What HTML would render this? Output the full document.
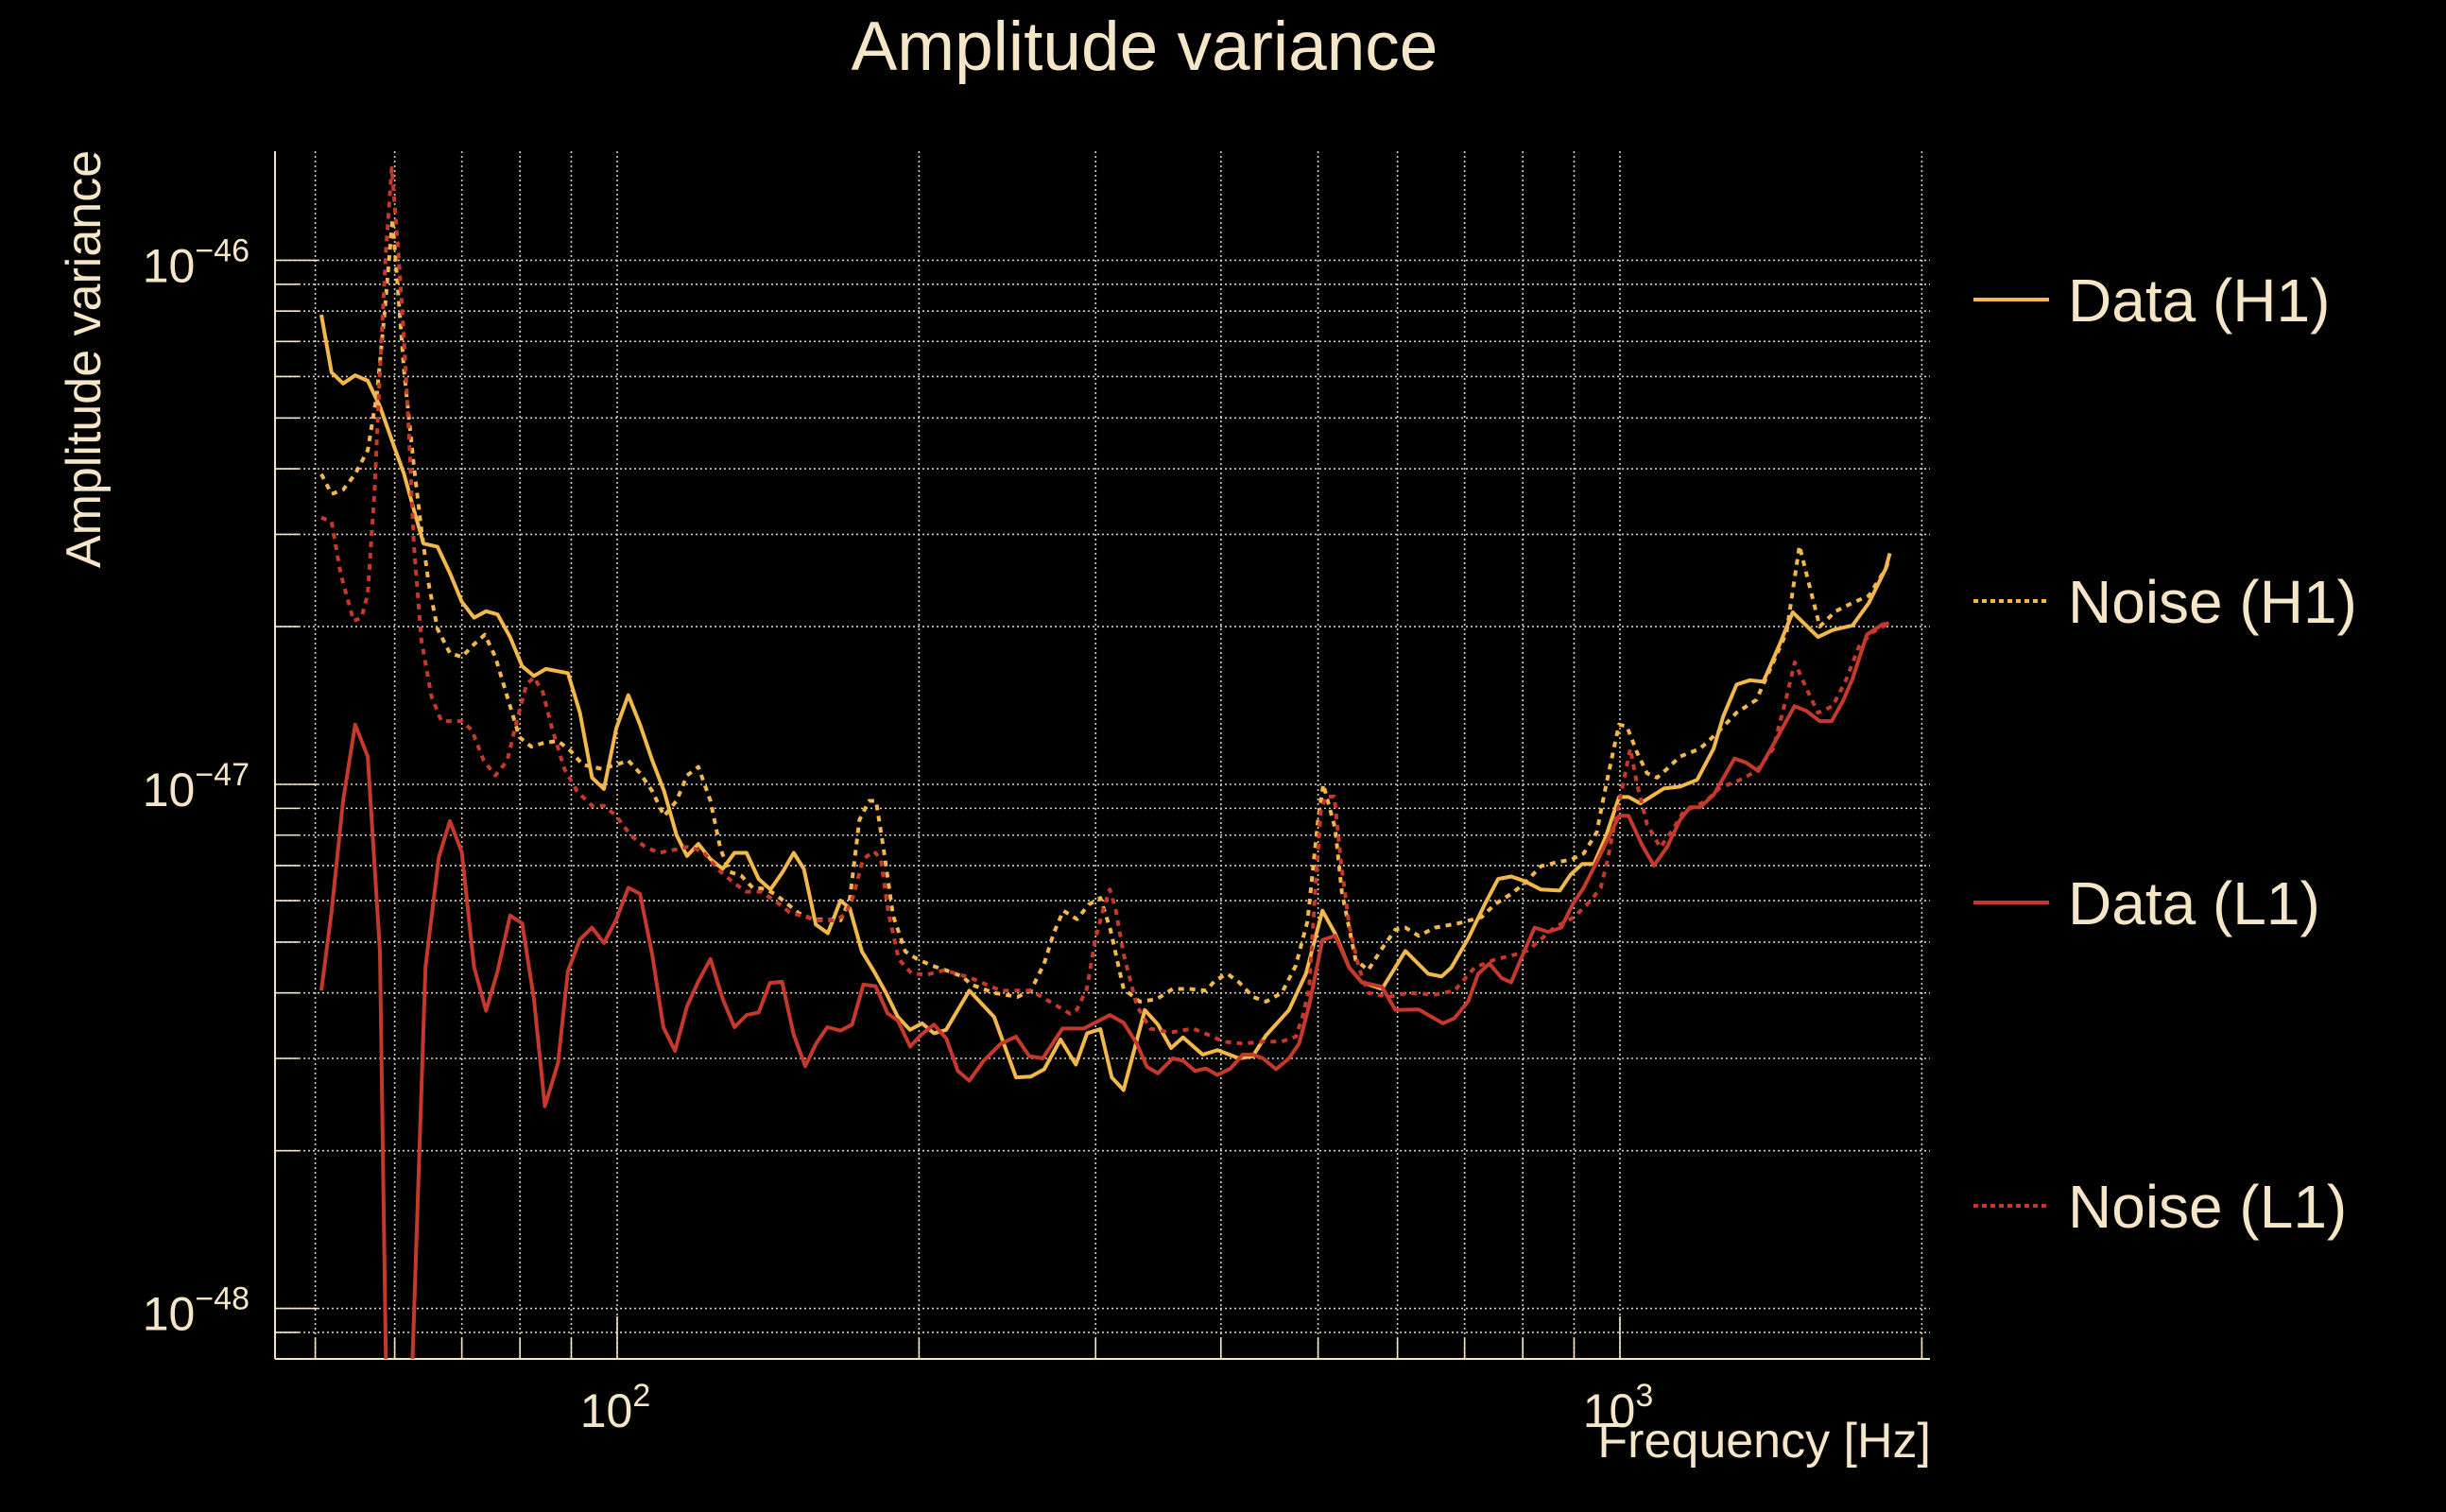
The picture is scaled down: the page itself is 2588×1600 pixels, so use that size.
<!DOCTYPE html>
<html><head><meta charset="utf-8"><style>
html,body{margin:0;padding:0;background:#000;}
svg{display:block;}
text{font-family:"Liberation Sans",sans-serif;fill:#f5e6c8;}
</style></head><body>
<svg id="chart" width="2588" height="1600" viewBox="0 0 2588 1600" xmlns="http://www.w3.org/2000/svg">
<rect width="2588" height="1600" fill="#000"/>
<defs><clipPath id="plotclip"><rect x="291" y="160" width="1751" height="1278"/></clipPath></defs>
<text x="1211" y="74" font-size="73" text-anchor="middle">Amplitude variance</text>
<text transform="translate(106,380) rotate(-90)" font-size="52" text-anchor="middle">Amplitude variance</text>
<text x="2043" y="1542" font-size="52" text-anchor="end">Frequency [Hz]</text>
<g id="grid"></g>
<g id="ticks"></g>
<g id="series" clip-path="url(#plotclip)"></g>
<g id="legend"></g>
</svg>
<script>
// amplitude values are in units of 1e-47
const xTickExps = [2, 3];
const yTickExps = [-46, -47, -48];
const legendLabels = ["Data (H1)", "Noise (H1)", "Data (L1)", "Noise (L1)"];

const dataH1Freq = [50.7,51.9,53.3,54.8,56.4,58.0,59.9,61.3,62.7,64.1,66.2,68.1,70.0,72.0,74.0,76.0,78.2,80.4,82.6,84.9,89.3,91.8,94.4,97.0,99.8,102.6,105.4,108.4,111.4,114.6,117.4,120.5,123.9,127.4,130.9,134.6,138.4,142.2,146.2,150.0,153.5,157.8,162.2,167.0,170.6,175.4,180.3,185.4,190.5,195.9,201.4,207.0,212.8,224.5,237.6,249.9,258.5,266.6,276.8,286.7,294.2,303.3,311.3,319.9,335.9,346.2,356.8,366.7,383.6,396.8,417.2,430.5,443.6,467.7,486.2,505,520,537,553,579,611,644,664,679,706,733,756,779,803,834,871,893,917,942,968,998,1020,1048,1106,1148,1194,1240,1268,1307,1348,1390,1443,1487,1576,1630,1706,1771,1841,1858];
const dataH1 = [7.87,6.11,5.82,6.03,5.89,5.26,4.42,3.91,3.34,2.88,2.84,2.53,2.23,2.08,2.14,2.11,1.91,1.68,1.61,1.66,1.63,1.37,1.03,0.98,1.28,1.48,1.30,1.11,0.97,0.80,0.73,0.77,0.72,0.69,0.74,0.74,0.66,0.63,0.68,0.74,0.69,0.54,0.52,0.60,0.58,0.48,0.44,0.40,0.36,0.34,0.35,0.335,0.34,0.404,0.36,0.276,0.277,0.286,0.326,0.292,0.335,0.341,0.276,0.261,0.371,0.348,0.314,0.329,0.305,0.311,0.30,0.303,0.332,0.371,0.435,0.574,0.519,0.447,0.419,0.407,0.481,0.435,0.43,0.447,0.509,0.59,0.66,0.667,0.654,0.63,0.627,0.673,0.705,0.705,0.795,0.946,0.946,0.92,0.982,0.99,1.02,1.17,1.35,1.55,1.58,1.57,1.85,2.13,1.91,1.97,2.01,2.22,2.58,2.76];

const noiseH1Freq = [50.7,51.9,53.3,54.8,56.4,57.6,58.6,59.7,61.3,62.7,63.8,64.9,66.2,68.1,70.0,72.0,73.8,75.6,77.7,79.9,82.1,84.5,87.3,89.8,92.4,96.6,99.8,102.6,105.4,108.4,111.4,114.6,117.4,120.5,123.9,126.7,129.3,132.9,136.5,140.3,143.6,147.6,151.7,156.8,161,167,170.6,174.4,178.3,181.2,184.3,188.4,193.8,199.2,206,214,221,225.4,237.6,250.7,258.5,266.6,272.3,278.6,287.4,295.4,303.3,310.4,319.9,332,345,358,372,386.5,395,406,417,430.5,443.6,460,475,488,500,506,520,528,545,561,579,597,611,630,654,690,728,750,779,803,834,867,893,920,948,968,986,998,1016,1040,1064,1089,1114,1148,1202,1248,1307,1368,1422,1466,1510,1582,1641,1706,1771,1841,1858];
const noiseH1 = [3.91,3.58,3.65,3.91,4.34,5.55,7.87,12.0,6.15,4.05,3.06,2.40,1.98,1.78,1.75,1.85,1.93,1.75,1.47,1.23,1.18,1.20,1.21,1.16,1.09,1.07,1.09,1.11,1.05,0.97,0.87,0.93,1.04,1.08,0.93,0.757,0.681,0.67,0.635,0.632,0.618,0.593,0.568,0.552,0.552,0.55,0.603,0.855,0.93,0.93,0.757,0.562,0.48,0.464,0.451,0.44,0.43,0.415,0.40,0.393,0.404,0.455,0.519,0.574,0.553,0.59,0.607,0.528,0.407,0.385,0.389,0.407,0.407,0.404,0.423,0.435,0.419,0.393,0.385,0.40,0.451,0.548,0.855,1.0,0.824,0.624,0.463,0.442,0.486,0.528,0.533,0.514,0.533,0.543,0.558,0.59,0.618,0.647,0.698,0.711,0.718,0.738,0.81,0.99,1.17,1.30,1.29,1.15,1.05,1.03,1.07,1.13,1.17,1.25,1.37,1.45,1.71,1.95,2.85,2.0,2.14,2.22,2.29,2.58,2.70];

const dataL1Freq = [50.7,51.9,53.3,54.8,56.4,58.0,59.0,61.0,62.0,64.4,66.4,68.1,70.0,72.0,74.0,76.0,78.2,80.4,82.6,84.7,87.3,89.3,91.8,94.4,97.0,99.8,102.6,105.4,108.4,111.2,114.2,117.4,120.5,123.9,127.4,130.9,134.6,138.4,142,146,150,154,158,162,167,171.5,176,181,186,190.5,196,201,207,213,218.6,224.5,232,241.3,249.9,257.6,265.7,278,292,310,319.9,329.8,337.6,346.2,358.2,366.7,376.8,386.5,396.8,409,420.6,430.5,440.6,454,467.7,478.6,489.8,505,520,537,553,579,597,630,666,684,706,722,741,762,779,800,822,848,874,897,920,948,998,1020,1052,1081,1114,1148,1174,1202,1240,1301,1336,1374,1422,1493,1535,1582,1626,1668,1706,1763,1827,1855];
const dataL1 = [0.404,0.571,0.933,1.30,1.13,0.48,0.05,0.03,0.05,0.448,0.726,0.851,0.743,0.448,0.37,0.44,0.562,0.543,0.39,0.243,0.294,0.44,0.506,0.533,0.498,0.552,0.635,0.618,0.472,0.344,0.31,0.377,0.421,0.464,0.39,0.344,0.363,0.367,0.418,0.42,0.333,0.29,0.321,0.344,0.339,0.348,0.415,0.412,0.366,0.354,0.316,0.333,0.348,0.327,0.284,0.272,0.297,0.32,0.33,0.303,0.30,0.342,0.342,0.363,0.351,0.32,0.289,0.281,0.30,0.297,0.284,0.287,0.279,0.287,0.305,0.305,0.30,0.286,0.30,0.32,0.378,0.505,0.514,0.447,0.419,0.411,0.371,0.372,0.35,0.358,0.386,0.435,0.455,0.427,0.419,0.473,0.533,0.523,0.533,0.59,0.635,0.711,0.871,0.871,0.766,0.70,0.758,0.855,0.904,0.904,0.955,1.12,1.10,1.06,1.19,1.41,1.38,1.32,1.32,1.44,1.59,1.93,2.02,2.03];

const noiseL1Freq = [50.7,51.9,53.0,54.6,55.6,56.4,57.3,58.0,58.8,59.6,60.5,61.3,62.0,62.7,63.8,65.3,66.8,68.9,70.0,71.6,73.6,75.6,77.7,79.4,81.2,82.6,84.3,86.1,88.6,91.2,94.4,97.0,99.8,103.1,106.6,110.1,113.9,117.7,121.7,126.3,130.9,134.6,139,143.6,148.6,153.4,158.6,165,168.9,171.9,175.9,180.3,183.2,186.4,190.9,196.5,203.4,212,225.4,241.3,258.5,270,283,287.4,294,300,305.5,310,314,320,329.8,340,356,375,390,402,421,440.6,460,475,482,489.8,497,503,509,519,527,537,549,561,588,615,654,684,716,750,785,809,828,860,900,935,957,971,986,1008,1024,1040,1064,1097,1131,1157,1183,1219,1258,1318,1368,1422,1466,1494,1535,1576,1630,1680,1731,1786,1855];
const noiseL1 = [3.23,3.17,2.52,2.05,2.08,2.31,3.65,6.15,10.4,15.0,10.4,7.08,4.66,2.86,1.88,1.47,1.32,1.32,1.32,1.27,1.11,1.04,1.11,1.32,1.55,1.60,1.50,1.28,1.07,0.97,0.91,0.91,0.87,0.80,0.76,0.74,0.75,0.76,0.745,0.686,0.647,0.624,0.624,0.60,0.57,0.56,0.55,0.55,0.565,0.61,0.72,0.745,0.72,0.57,0.464,0.436,0.433,0.442,0.427,0.404,0.404,0.385,0.365,0.372,0.407,0.509,0.58,0.63,0.58,0.473,0.378,0.342,0.336,0.342,0.332,0.323,0.32,0.323,0.323,0.33,0.358,0.407,0.635,0.887,0.948,0.948,0.711,0.538,0.447,0.40,0.393,0.40,0.397,0.404,0.447,0.463,0.473,0.482,0.50,0.533,0.558,0.60,0.635,0.711,0.824,1.01,1.17,1.0,0.84,0.758,0.824,0.887,0.904,0.93,0.985,1.02,1.06,1.17,1.47,1.71,1.52,1.37,1.41,1.58,1.83,1.95,2.03];

const UNIT = 1e-47;
const X0 = 291, X1 = 2042, Y0 = 160, Y1 = 1438;
const DEC_X = 1061, DEC_Y = 554.6;
function xScale(f){ return 653 + (Math.log10(f) - 2) * DEC_X; }
function yScale(v){ return 830 - (Math.log10(v * UNIT) + 47) * DEC_Y; }
function yScaleExp(e){ return 830 - (e + 47) * DEC_Y; }

const NS = "http://www.w3.org/2000/svg";
function mk(tag, attrs, parent){
  const el = document.createElementNS(NS, tag);
  for (const k in attrs) el.setAttribute(k, attrs[k]);
  parent.appendChild(el);
  return el;
}
const grid = document.getElementById('grid');
const ticks = document.getElementById('ticks');
const gridStyle = {stroke:"#d8d0c0", "stroke-width":1.6, "stroke-dasharray":"2,3"};

for (let d = 1; d <= 3; d++) {
  for (let m = 1; m <= 9; m++) {
    const f = m * Math.pow(10, d);
    const x = xScale(f);
    if (x < X0 + 2 || x > X1 - 2) continue;
    const g = mk('line', Object.assign({x1:x, x2:x, y1:Y0, y2:Y1}, gridStyle), grid);
    
    
    const t = mk('line', {x1:x, x2:x, y1:Y1, y2:Y1 - (m === 1 ? 45 : 22), stroke:"#f5e6c8", "stroke-width":1.6}, ticks);
    
    
  }
}
for (let e = -49; e <= -46; e++) {
  for (let m = 1; m <= 9; m++) {
    const y = 830 - (Math.log10(m) + e + 47) * DEC_Y;
    if (y < Y0 + 2 || y > Y1 - 2) continue;
    const g = mk('line', Object.assign({x1:X0, x2:X1, y1:y, y2:y}, gridStyle), grid);
    
    
    const t = mk('line', {x1:X0, x2:X0 + (m === 1 ? 45 : 25), y1:y, y2:y, stroke:"#f5e6c8", "stroke-width":1.6}, ticks);
    
    
  }
}
const sl = mk('line', {x1:X0, x2:X0, y1:Y0, y2:Y1, stroke:"#f5e6c8", "stroke-width":2}, ticks);


const sb = mk('line', {x1:X0, x2:X1, y1:Y1, y2:Y1, stroke:"#f5e6c8", "stroke-width":2}, ticks);



xTickExps.forEach(function(e){
  const t = mk('text', {x:xScale(Math.pow(10, e)) - 2, y:1510, "font-size":50, "text-anchor":"middle"}, ticks);
  
  
  t.appendChild(document.createTextNode("10"));
  const s = mk('tspan', {dy:-22, "font-size":34}, t);
  s.textContent = String(e);
});
yTickExps.forEach(function(e){
  const t = mk('text', {x:264, y:yScaleExp(e) + 23, "font-size":50, "text-anchor":"end"}, ticks);
  
  
  t.appendChild(document.createTextNode("10"));
  const s = mk('tspan', {dy:-22, "font-size":34}, t);
  s.textContent = "\u2212" + String(-e);
});

const seriesG = document.getElementById('series');
function drawSeries(freqs, vals, color, dashed, name){
  let d = "";
  for (let i = 0; i < freqs.length; i++) {
    d += (i ? "L" : "M") + xScale(freqs[i]).toFixed(1) + "," + yScale(vals[i]).toFixed(1);
  }
  const attrs = {d:d, fill:"none", stroke:color, "stroke-width":4, "stroke-linejoin":"round"};
  if (dashed) attrs["stroke-dasharray"] = "6,6";
  const p = mk('path', attrs, seriesG);
  
  
}
const YEL = "#f2b84b", RED = "#c4392b";
drawSeries(dataH1Freq, dataH1, YEL, false, 'data-h1-line');
drawSeries(noiseH1Freq, noiseH1, YEL, true, 'noise-h1-line');
drawSeries(dataL1Freq, dataL1, RED, false, 'data-l1-line');
drawSeries(noiseL1Freq, noiseL1, RED, true, 'noise-l1-line');

const legend = document.getElementById('legend');
const legColors = [YEL, YEL, RED, RED];
const legDash = [false, true, false, true];
const legY = [317, 636, 955, 1276];
legendLabels.forEach(function(lab, i){
  const a = {x1:2088, x2:2168, y1:legY[i], y2:legY[i], stroke:legColors[i], "stroke-width":4};
  if (legDash[i]) a["stroke-dasharray"] = "5,4";
  const l = mk('line', a, legend);
  
  
  const t = mk('text', {x:2188, y:legY[i] + 23, "font-size":64}, legend);
  
  
  t.textContent = lab;
});
</script>
</body></html>
